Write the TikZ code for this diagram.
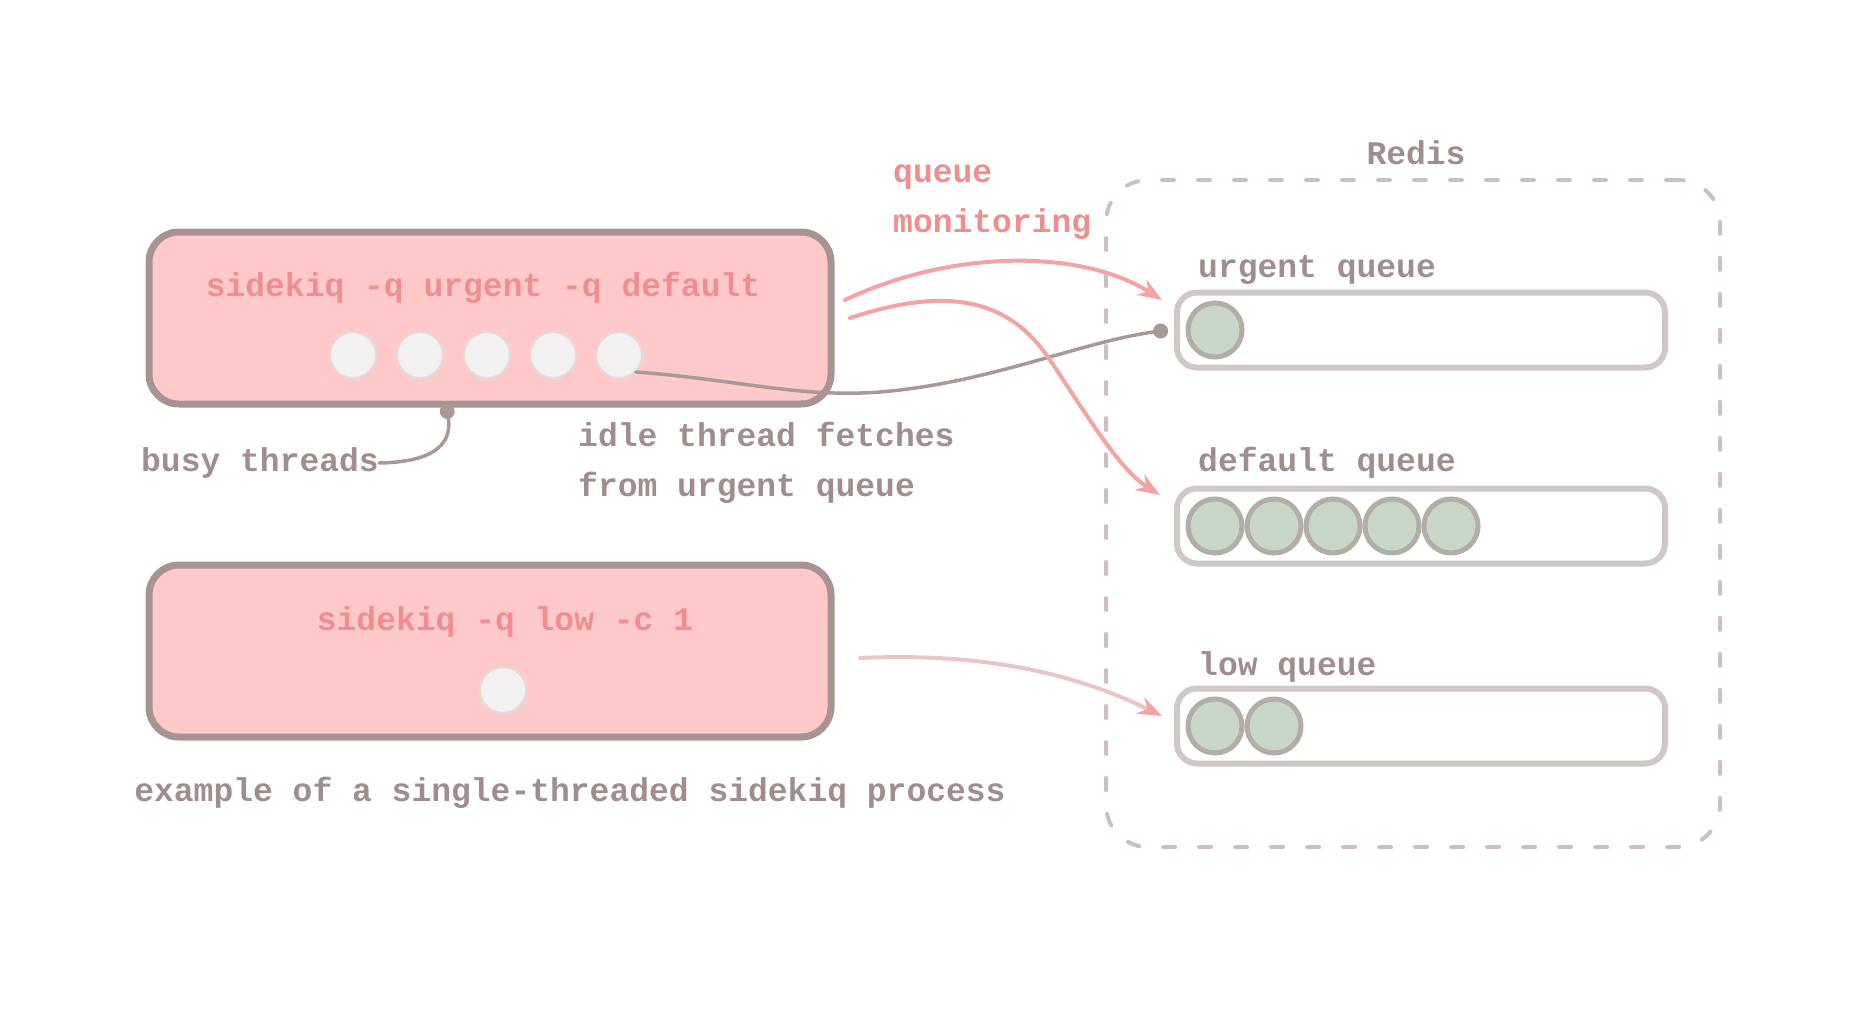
\documentclass[tikz,border=0pt]{standalone}
\usepackage{fontspec}
\setmonofont{Liberation Mono}
\usetikzlibrary{arrows.meta}
\definecolor{boxfill}{HTML}{FFC9C9}
\definecolor{boxline}{HTML}{A89393}
\definecolor{pinktxt}{HTML}{EE8E8E}
\definecolor{graytxt}{HTML}{A08E8E}
\definecolor{threadfill}{HTML}{F2F0F0}
\definecolor{threadline}{HTML}{E4DADA}
\definecolor{barline}{HTML}{D0C7C7}
\definecolor{itemfill}{HTML}{C8D6C8}
\definecolor{itemline}{HTML}{B2ADA7}
\definecolor{dashline}{HTML}{CBBFBF}
\definecolor{connline}{HTML}{A89898}
\definecolor{arrowpink}{HTML}{F3A3A3}
\definecolor{arrowpale}{HTML}{E8C6C6}
\begin{document}
\begin{tikzpicture}[x=1pt,y=-1pt,
  procbox/.style={draw=boxline, fill=boxfill, line width=7pt, rounded corners=30pt, inner sep=0pt},
  redisbox/.style={draw=dashline, line width=4pt, rounded corners=42pt, dash pattern=on 12pt off 24pt, line cap=round, inner sep=0pt},
  qbar/.style={draw=barline, fill=white, line width=6pt, rounded corners=20pt, inner sep=0pt, minimum width=488pt, minimum height=75pt},
  thread/.style={circle, draw=threadline, fill=threadfill, line width=2pt, minimum size=46pt, inner sep=0pt},
  qitem/.style={circle, draw=itemline, fill=itemfill, line width=5pt, minimum size=54pt, inner sep=0pt},
  txt/.style={font=\ttfamily\bfseries\fontsize{33}{50}\selectfont, text=graytxt, inner sep=0pt},
  ptxt/.style={txt, text=pinktxt},
  conn/.style={draw=connline, line width=3.5pt, line cap=round},
  dotend/.style={-{Circle[length=15pt]}},
  parrow/.style={draw=arrowpink, line width=4pt, line cap=round, -{Stealth[length=24pt,width=18pt]}},
  parrowpale/.style={draw=arrowpale, line width=4pt, line cap=round, -{Stealth[length=24pt,width=18pt,color=arrowpink]}}
]
\useasboundingbox (0,0) rectangle (1865,1022);

% --- worker processes ---
\node[procbox, minimum width=682pt, minimum height=172pt] (w1) at (490,318) {};
\node[ptxt] (w1cmd) at (483,288) {sidekiq -q urgent -q default};
\node[thread] (t1) at (353,355) {};
\node[thread] (t2) at (420,355) {};
\node[thread] (t3) at (487,355) {};
\node[thread] (t4) at (553,355) {};
\node[thread] (t5) at (619,355) {};

\node[procbox, minimum width=682pt, minimum height=172pt] (w2) at (490,651) {};
\node[ptxt] (w2cmd) at (505,622) {sidekiq -q low -c 1};
\node[thread] (s1) at (503,690) {};

% --- labels ---
\node[txt] (busy) at (260,463) {busy threads};
\node[txt, anchor=west, align=left] (idle) at (578,463) {idle thread fetches\\from urgent queue};
\node[ptxt, anchor=west, align=left] (mon) at (893,202) {queue\\monitoring};
\node[txt] (caption) at (570,793) {example of a single-threaded sidekiq process};

% --- redis ---
\node[redisbox, minimum width=614pt, minimum height=667pt] (redis) at (1413,513.5) {};
\node[txt] (redislbl) at (1416,153) {Redis};

\node[qbar] (qu) at (1421,330) {};
\node[txt, anchor=west] (qulbl) at (1198,270) {urgent queue};
\node[qitem] (u1) at (1215,330) {};

\node[qbar] (qd) at (1421,526) {};
\node[txt, anchor=west] (qdlbl) at (1198,463) {default queue};
\node[qitem] (d1) at (1215,526) {};
\node[qitem] (d2) at (1274,526) {};
\node[qitem] (d3) at (1333,526) {};
\node[qitem] (d4) at (1392,526) {};
\node[qitem] (d5) at (1451,526) {};

\node[qbar] (ql) at (1421,726) {};
\node[txt, anchor=west] (qllbl) at (1198,667) {low queue};
\node[qitem] (l1) at (1215,726) {};
\node[qitem] (l2) at (1274,726) {};

% --- connector end points ---
\coordinate (busydot) at (446,404);
\coordinate (urgdot) at (1168,330);
\coordinate (a1s) at (845,300);
\coordinate (a1e) at (1162,300);
\coordinate (a2s) at (850,318);
\coordinate (a2e) at (1160,495);
\coordinate (a3s) at (860,658);
\coordinate (a3e) at (1162,716);

% --- connectors ---
\draw[conn, dotend] (busy.east) .. controls (440,462) and (452,440) .. (busydot);
\draw[conn, dotend] (t5.south east) .. controls (740,380) and (800,398) .. (880,392)
      .. controls (990,383) and (1080,342) .. (urgdot);
\draw[parrow] (a1s) .. controls (950,250) and (1080,248) .. (a1e);
\draw[parrow] (a2s) .. controls (950,285) and (1010,300) .. (1050,360)
      .. controls (1090,420) and (1120,470) .. (a2e);
\draw[parrowpale] (a3s) .. controls (990,652) and (1080,676) .. (a3e);
\end{tikzpicture}
\end{document}
